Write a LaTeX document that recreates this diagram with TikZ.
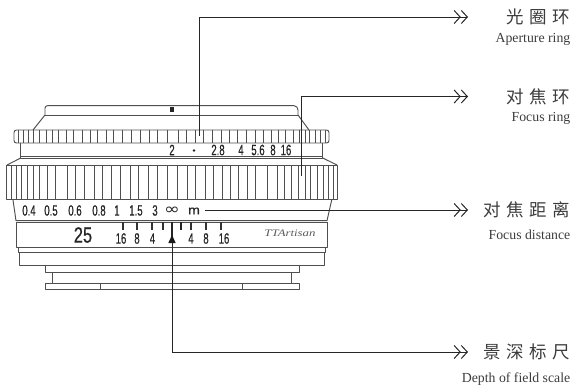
\documentclass[tikz,border=0pt]{standalone}
\usepackage{fontspec}
\setmainfont{Liberation Serif}
\newfontfamily\cjk[LetterSpace=31]{Noto Sans CJK SC}
\newfontfamily\scalefont[FakeBold=0.6]{Liberation Sans}
\usetikzlibrary{arrows.meta}
\definecolor{lensline}{HTML}{4F4F4F}
\definecolor{labelgray}{HTML}{3C3C3C}
\tikzset{
  lens/.style={draw=lensline,line width=0.95pt,line join=round},
  knurl/.style={draw=lensline,line width=0.7pt},
  tick/.style={draw=black!80,line width=1.1pt},
  thicktick/.style={draw=black!85,line width=1.9pt},
  leader/.style={draw=black!85,line width=1pt,-{Straight Barb[length=6pt,width=13pt]Straight Barb[length=6pt,width=13pt]}},
  cn/.style={anchor=east,inner sep=0pt,text=labelgray,font=\cjk\fontsize{17.5}{17.5}\selectfont},
  en/.style={anchor=east,inner sep=0pt,text=labelgray,font=\fontsize{13.8}{13.8}\selectfont},
  num/.style={inner sep=0pt,text=black!85},
}
\newcommand{\nm}[1]{\scalebox{0.64}[1]{\scalefont\fontsize{15}{15}\selectfont #1}}
\begin{document}
\begin{tikzpicture}[x=1pt,y=-1pt]
\useasboundingbox (0,0) rectangle (576,389);
% top shell
\draw[lens] (33,130) -- (45,115) -- (45,108) to[out=90,in=180] (47.5,105.7) -- (294,105.7) to[out=0,in=90] (298,110) -- (298,115) -- (309,130);
\draw[lens] (45,115) -- (298,115);
\fill[black!85] (170.3,106.5) rectangle (173.7,112);
% aperture ring
\draw[lens,rounded corners=2.5pt] (14,130) rectangle (329,143);
\foreach \x in {18,23,28,33,39,46,52,58,66,73,82,90,97,106,113,122,131,140,149,157,167,178,186,195,203,212,221,229,237,246,255,263,271,278,285,293,299,305,309,315,320,325}
  \draw[knurl] (\x,130) -- (\x,143);
% band under aperture ring
\draw[lens] (20.7,143) -- (20.7,158) -- (322.7,158) -- (322.7,143);
\draw[lens] (20.7,156.5) -- (322.7,156.5);
\draw[lens] (20.7,158) -- (7,165);
\draw[lens] (322.7,158) -- (337,165);
% focus ring
\draw[lens] (6,165) rectangle (337,199);
\foreach \x in {11,16,21,27,33,39,47,55,67,75,84,94,102,111,120,130,138,148,157,167,177,187,195,205,213,222,230,238,247,255,267,277,284,291,298,305,310,317,323,328,333}
  \draw[knurl] (\x,165) -- (\x,199);
% focus distance band
\draw[lens] (13,200) -- (16,220.7) -- (327,220.7) -- (331.7,200);
\draw[lens] (16.7,222) -- (327,222);
% depth-of-field barrel
\draw[lens] (16.7,222) -- (16.7,247.5) -- (327,247.5) -- (327,222);
\draw[lens] (18.3,247.5) -- (18.3,252.7) -- (325,252.7) -- (325,247.5);
\draw[lens] (19,252.7) -- (19,265) -- (324,265) -- (324,252.7);
\draw[lens] (45,265.7) rectangle (299,272.3);
\draw[lens] (52.3,272.3) -- (52.3,283.5) -- (291,283.5) -- (291,272.3);
\draw[lens] (45,283.5) rectangle (299,289.5);
\draw[lens] (100,283.5) -- (100,289.5);
\draw[lens] (242.7,283.5) -- (242.7,289.5);
% aperture scale
\node[num] (a2) at (172,150) {\nm{2}};
\fill[black!85] (194,150.5) circle (1.4pt);
\node[num] (a28) at (218,150) {\nm{2.8}};
\node[num] (a4) at (241,150) {\nm{4}};
\node[num] (a56) at (258,150) {\nm{5.6}};
\node[num] (a8) at (273,150) {\nm{8}};
\node[num] (a16) at (286,150) {\nm{16}};
% distance scale
\node[num] (d04) at (29,210.5) {\nm{0.4}};
\node[num] (d05) at (51,210.5) {\nm{0.5}};
\node[num] (d06) at (75,210.5) {\nm{0.6}};
\node[num] (d08) at (99,210.5) {\nm{0.8}};
\node[num] (d1) at (117,210.5) {\nm{1}};
\node[num] (d15) at (136,210.5) {\nm{1.5}};
\node[num] (d3) at (155,210.5) {\nm{3}};
\node[num] (dinf) at (172,211) {\scalebox{1.35}[1.1]{\fontspec{DejaVu Sans}\fontsize{14}{14}\selectfont ∞}};
\node[num] (dm) at (194,211) {\scalebox{0.95}[0.85]{\scalefont\fontsize{15}{15}\selectfont m}};
% depth-of-field scale
\node[num] (f25) at (83,235) {\scalebox{0.75}[1]{\scalefont\fontsize{22}{22}\selectfont 25}};
\foreach \x in {123,137,152,163,191,206,221} \draw[tick] (\x,222) -- (\x,230);
\draw[thicktick] (180.7,222) -- (180.7,230);
\node[num] (l16) at (121,238.5) {\nm{16}};
\node[num] (l8) at (137,238.5) {\nm{8}};
\node[num] (l4) at (152.5,238.5) {\nm{4}};
\node[num] (r4) at (191,238.5) {\nm{4}};
\node[num] (r8) at (206,238.5) {\nm{8}};
\node[num] (r16) at (224,238.5) {\nm{16}};
\draw[thicktick] (172,222) -- (172,238);
\fill[black!90] (172,235) -- (175.7,243) -- (168.3,243) -- cycle;
\node[inner sep=0pt,text=black!65] (brand) at (290,233) {\scalebox{1.35}[1.05]{\itshape\fontsize{9.5}{9.5}\selectfont TTArtisan}};
% labels
\node[cn] (l1) at (570,17) {光圈环};
\node[en] (e1) at (570.5,39) {Aperture ring};
\node[cn] (l2) at (570,97) {对焦环};
\node[en] (e2) at (570.5,118) {Focus ring};
\node[cn] (l3) at (570,210) {对焦距离};
\node[en] (e3) at (570.5,235) {Focus distance};
\node[cn] (l4) at (570,352) {景深标尺};
\node[en] (e4) at (570.5,379) {Depth of field scale};
% leaders
\coordinate (s1) at (199,136);
\coordinate (s2) at (301,176);
\coordinate (s3) at (205,210);
\coordinate (s4) at (172,243);
\coordinate (t1) at (468,17);
\coordinate (t2) at (468,96.5);
\coordinate (t3) at (468,210);
\coordinate (t4) at (468,352);
\draw[leader] (s1) |- (t1);
\draw[leader] (s2) |- (t2);
\draw[leader] (s3) -- (t3);
\draw[leader] (s4) |- (t4);
\end{tikzpicture}
\end{document}
